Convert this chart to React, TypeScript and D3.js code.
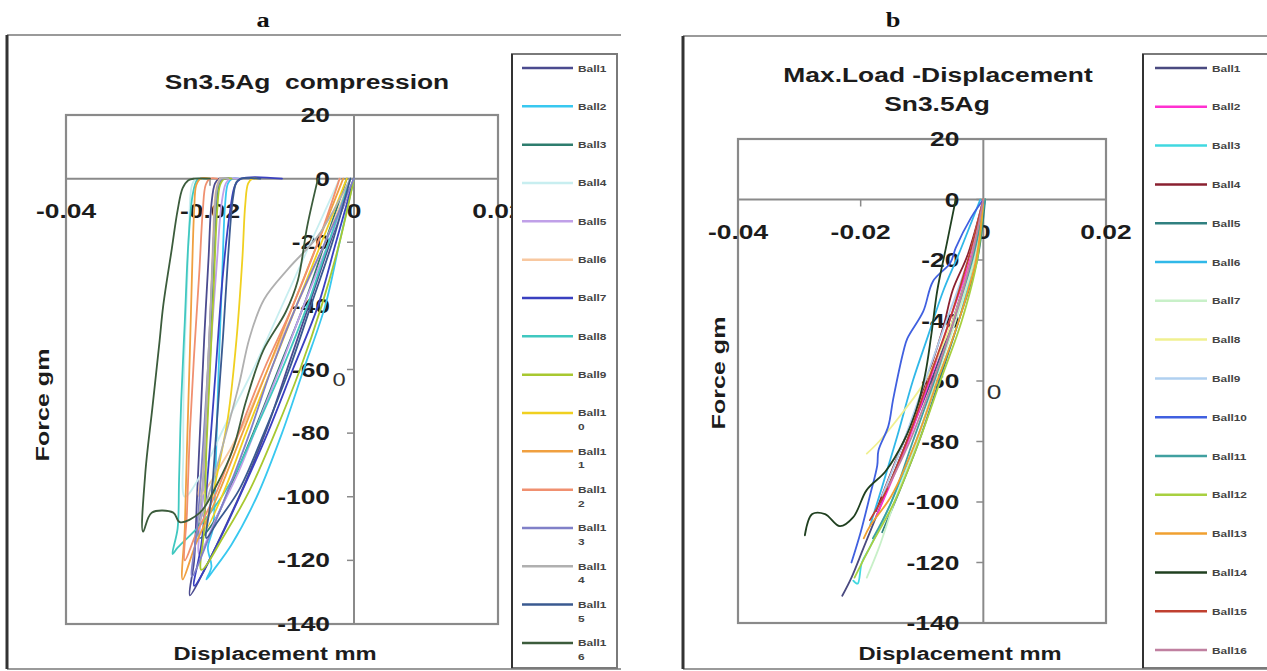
import * as d3 from 'd3'

type Pt = [number, number]

const xTicks = [-0.04, -0.02, 0, 0.02]
const yTicks = [20, 0, -20, -40, -60, -80, -100, -120, -140]
const ballNames = ['Ball1', 'Ball2', 'Ball3', 'Ball4', 'Ball5', 'Ball6', 'Ball7', 'Ball8',
  'Ball9', 'Ball10', 'Ball11', 'Ball12', 'Ball13', 'Ball14', 'Ball15', 'Ball16']

const colorsA = ['#4b4b8f', '#38c8f0', '#2e7d6e', '#c8eef0', '#c0a0e8', '#f8c8a0', '#3a40c0', '#40c8c0',
  '#a8c830', '#f0d020', '#f0a040', '#f09070', '#8080c8', '#b0b0b0', '#3a5a90', '#3c5c3c']
const colorsB = ['#4a4a80', '#ff30d0', '#40d8e0', '#8a2030', '#308080', '#30b8e8', '#c8f0c8', '#f0f090',
  '#b0d0f0', '#4060e0', '#40a0a0', '#a8d040', '#f0a030', '#204020', '#c04030', '#c080a0']

// a: full compression cycle (load down-left, unload back up to 0)
const compressionCurves: Pt[][] = [
  [[0, 0], [-0.003, -18], [-0.006, -38], [-0.009, -58], [-0.012, -78], [-0.015, -95], [-0.018, -110], [-0.021, -124], [-0.0228, -131],
    [-0.0222, -120], [-0.0218, -100], [-0.0213, -75], [-0.0208, -50], [-0.0202, -25], [-0.0198, -8], [-0.0193, -1.5], [-0.0187, 0], [-0.0175, 0]],
  [[0, 0], [-0.002, -20], [-0.004, -40], [-0.007, -60], [-0.01, -80], [-0.0135, -100], [-0.017, -115], [-0.0195, -123], [-0.0205, -126],
    [-0.0198, -122], [-0.0203, -116], [-0.0196, -110], [-0.0192, -90], [-0.0188, -60], [-0.0183, -30], [-0.0179, -8], [-0.0175, -1.5], [-0.0169, 0], [-0.016, 0]],
  [[-0.001, 0], [-0.004, -20], [-0.007, -40], [-0.0105, -60], [-0.014, -80], [-0.017, -96], [-0.0195, -108], [-0.0215, -113],
    [-0.021, -100], [-0.0205, -80], [-0.02, -55], [-0.0195, -30], [-0.0191, -10], [-0.0187, -1.5], [-0.0181, 0], [-0.017, 0]],
  [[-0.002, 0], [-0.006, -20], [-0.01, -40], [-0.014, -60], [-0.018, -78], [-0.021, -92], [-0.0235, -100],
    [-0.0237, -85], [-0.0236, -60], [-0.0232, -35], [-0.0229, -15], [-0.0225, -2], [-0.0219, 0], [-0.021, 0]],
  [[0, 0], [-0.0035, -20], [-0.007, -40], [-0.01, -58], [-0.013, -75], [-0.016, -92], [-0.019, -106], [-0.0215, -118],
    [-0.021, -100], [-0.0205, -75], [-0.0198, -50], [-0.019, -25], [-0.0184, -8], [-0.0178, -1.5], [-0.0172, 0], [-0.016, 0]],
  [[-0.0005, 0], [-0.004, -20], [-0.008, -40], [-0.012, -60], [-0.0155, -78], [-0.019, -92], [-0.0215, -100],
    [-0.021, -90], [-0.0205, -70], [-0.02, -45], [-0.0196, -20], [-0.0192, -4], [-0.0186, 0], [-0.0175, 0]],
  [[0, 0], [-0.0025, -20], [-0.005, -40], [-0.0085, -60], [-0.012, -80], [-0.0155, -98], [-0.019, -115], [-0.0222, -128],
    [-0.0212, -115], [-0.0202, -90], [-0.0192, -60], [-0.0182, -30], [-0.0172, -10], [-0.0165, -2], [-0.0157, 0], [-0.01, 0]],
  [[-0.0005, 0], [-0.0035, -20], [-0.0065, -40], [-0.01, -60], [-0.0135, -78], [-0.017, -95], [-0.021, -108], [-0.0245, -116], [-0.0252, -118],
    [-0.0245, -110], [-0.0243, -95], [-0.024, -70], [-0.0235, -45], [-0.023, -20], [-0.0224, -5], [-0.0218, -0.5], [-0.0212, 0], [-0.02, 0]],
  [[0, 0], [-0.002, -20], [-0.0045, -40], [-0.0075, -60], [-0.011, -80], [-0.0145, -98], [-0.018, -112], [-0.0212, -123],
    [-0.0208, -110], [-0.0205, -85], [-0.02, -60], [-0.0195, -35], [-0.019, -10], [-0.0186, -2], [-0.018, 0], [-0.017, 0]],
  [[-0.001, 0], [-0.0045, -20], [-0.008, -40], [-0.0115, -60], [-0.015, -80], [-0.018, -98], [-0.0205, -110],
    [-0.0192, -95], [-0.0175, -75], [-0.0163, -50], [-0.0155, -25], [-0.0151, -8], [-0.0147, -1.5], [-0.0141, 0], [-0.0135, 0]],
  [[-0.0015, 0], [-0.005, -20], [-0.0085, -40], [-0.012, -60], [-0.0155, -80], [-0.019, -100], [-0.022, -115], [-0.0238, -126],
    [-0.0235, -110], [-0.0232, -85], [-0.0228, -55], [-0.0225, -30], [-0.0222, -10], [-0.0219, -2], [-0.0213, 0], [-0.02, 0]],
  [[-0.002, 0], [-0.005, -20], [-0.0085, -40], [-0.0125, -60], [-0.016, -80], [-0.019, -98], [-0.022, -112], [-0.0235, -120],
    [-0.0232, -105], [-0.0228, -80], [-0.0222, -55], [-0.0215, -30], [-0.021, -10], [-0.0206, -2], [-0.02, 0], [-0.019, 0]],
  [[0, 0], [-0.004, -20], [-0.008, -40], [-0.0115, -60], [-0.0145, -80], [-0.0175, -98], [-0.02, -112], [-0.0225, -125],
    [-0.0218, -110], [-0.021, -85], [-0.0203, -60], [-0.0198, -35], [-0.0193, -10], [-0.0189, -2], [-0.0183, 0], [-0.0175, 0]],
  [[-0.0005, 0], [-0.005, -18], [-0.009, -28], [-0.0125, -38], [-0.0145, -50], [-0.016, -65], [-0.018, -82], [-0.02, -98], [-0.0215, -108],
    [-0.021, -95], [-0.0205, -70], [-0.02, -45], [-0.0195, -20], [-0.0191, -4], [-0.0185, 0], [-0.0175, 0]],
  [[-0.0005, 0], [-0.003, -20], [-0.006, -40], [-0.009, -60], [-0.0125, -80], [-0.016, -98], [-0.019, -108], [-0.0205, -113],
    [-0.0198, -100], [-0.019, -75], [-0.0182, -50], [-0.0175, -25], [-0.0168, -6], [-0.0163, -1], [-0.0157, 0], [-0.013, 0]],
  [[-0.005, 0], [-0.0065, -15], [-0.0078, -32], [-0.0095, -42], [-0.0126, -54], [-0.015, -70], [-0.0168, -85], [-0.019, -96],
    [-0.0214, -105], [-0.0242, -108], [-0.0251, -105], [-0.0281, -105], [-0.0293, -111],
    [-0.029, -93], [-0.028, -72], [-0.027, -51], [-0.0265, -40], [-0.0253, -22], [-0.0245, -10], [-0.0238, -3], [-0.023, -0.5], [-0.0222, 0], [-0.02, 0]],
]

// b: loading branch only, up to max load
const maxLoadCurves: Pt[][] = [
  [[0, 0], [-0.002, -20], [-0.005, -40], [-0.0085, -60], [-0.0125, -80], [-0.0165, -100], [-0.0195, -115], [-0.0215, -125], [-0.023, -131]],
  [[0, 0], [-0.0022, -20], [-0.0055, -40], [-0.0088, -60], [-0.0123, -80], [-0.016, -98], [-0.0175, -105]],
  [[0, 0], [-0.0015, -20], [-0.004, -40], [-0.0075, -60], [-0.011, -80], [-0.015, -100], [-0.0185, -115], [-0.0198, -120], [-0.0205, -127], [-0.0212, -126]],
  [[0, 0], [-0.0025, -18], [-0.005, -30], [-0.0065, -42], [-0.009, -58], [-0.012, -75], [-0.015, -90], [-0.0175, -103]],
  [[0.0003, 0], [-0.001, -20], [-0.004, -40], [-0.0072, -60], [-0.0105, -80], [-0.014, -98], [-0.0165, -110]],
  [[-0.0005, 0], [-0.004, -18], [-0.0065, -30], [-0.009, -45], [-0.0115, -60], [-0.014, -78], [-0.0165, -95], [-0.0185, -108]],
  [[0, 0], [-0.0015, -20], [-0.0045, -40], [-0.0078, -60], [-0.0108, -80], [-0.0145, -100], [-0.017, -115], [-0.019, -125]],
  [[0, 0], [-0.002, -20], [-0.005, -40], [-0.0095, -60], [-0.013, -70], [-0.017, -80], [-0.019, -84]],
  [[0, 0], [-0.0025, -20], [-0.006, -40], [-0.0095, -60], [-0.013, -80], [-0.0165, -98]],
  [[0, 0], [-0.002, -6], [-0.0045, -16], [-0.0054, -21], [-0.0082, -27], [-0.0098, -37], [-0.0124, -46], [-0.013, -50], [-0.0147, -66],
    [-0.0155, -75], [-0.0171, -83], [-0.0173, -88], [-0.0185, -98], [-0.02, -110], [-0.0215, -120]],
  [[0.0003, 0], [-0.0018, -20], [-0.0048, -40], [-0.008, -60], [-0.0115, -80], [-0.015, -100], [-0.018, -112]],
  [[0, 0], [-0.001, -20], [-0.0035, -40], [-0.007, -60], [-0.0105, -80], [-0.0145, -100], [-0.0185, -115], [-0.021, -125]],
  [[0, 0], [-0.0012, -20], [-0.004, -40], [-0.0075, -60], [-0.011, -80], [-0.015, -98], [-0.0185, -108], [-0.0195, -112]],
  [[-0.0045, 0], [-0.006, -15], [-0.0075, -30], [-0.0085, -45], [-0.0095, -58], [-0.011, -70], [-0.013, -80], [-0.016, -90],
    [-0.019, -96], [-0.0212, -105], [-0.0234, -108], [-0.0258, -104], [-0.0279, -104], [-0.0291, -111]],
  [[0, 0], [-0.0025, -20], [-0.0055, -40], [-0.009, -60], [-0.0125, -80], [-0.016, -97], [-0.0185, -106]],
  [[0, 0], [-0.002, -20], [-0.0048, -40], [-0.0082, -60], [-0.012, -80], [-0.0155, -95]],
]

const SX = 1.32
const INK = '#1c1c1c'
const FONT = 'Arial, "Liberation Sans", sans-serif'

function T({ x, y, size, children, anchor = 'middle', weight = 'bold', rotate = 0, family = FONT, fill = INK }: any) {
  const tr = `translate(${x},${y})${rotate ? ` rotate(${rotate})` : ''} scale(${SX},1)`
  return (
    <text transform={tr} textAnchor={anchor} fontSize={size} fontWeight={weight} fontFamily={family} fill={fill}
      style={{ whiteSpace: 'pre' }}>
      {children}
    </text>
  )
}

function Panel({ curves, colors, box, plot, titles, xTitle, yTitle, legend, stray, wrap }: any) {
  const x = d3.scaleLinear().domain([-0.04, 0.02]).range([plot.x0, plot.x1])
  const y = d3.scaleLinear().domain([20, -140]).range([plot.y0, plot.y1])
  const line = d3.line<Pt>().x((d) => x(d[0])).y((d) => y(d[1])).curve(d3.curveCatmullRom.alpha(0.5))
  const gray = '#8a8a8a'

  return (
    <g>
      {/* panel frame */}
      <line x1={box.x0} x2={box.x1} y1={box.y0} y2={box.y0} stroke="#9a9a9a" strokeWidth={2} />
      <line x1={box.x0} x2={box.x1} y1={box.y1} y2={box.y1} stroke="#9a9a9a" strokeWidth={2} />
      <line x1={box.x0} x2={box.x0} y1={box.y0} y2={box.y1} stroke="#333" strokeWidth={3} />

      {titles.map((t: any, i: number) => (
        <T key={i} x={t.x} y={t.y} size={20}>{t.text}</T>
      ))}

      <rect x={plot.x0} y={plot.y0} width={plot.x1 - plot.x0} height={plot.y1 - plot.y0}
        fill="none" stroke={gray} strokeWidth={2.2} />
      <line x1={plot.x0} x2={plot.x1} y1={y(0)} y2={y(0)} stroke={gray} strokeWidth={2} />
      <line x1={x(0)} x2={x(0)} y1={plot.y0} y2={plot.y1} stroke={gray} strokeWidth={2} />

      {xTicks.map((t) => (
        <g key={'x' + t}>
          <line x1={x(t)} x2={x(t)} y1={y(0)} y2={y(0) + 7} stroke={gray} strokeWidth={1.5} />
          <T x={x(t)} y={y(0) + 39} size={20}>{t === 0 ? '0' : String(t)}</T>
        </g>
      ))}
      {yTicks.map((t) => (
        <g key={'y' + t}>
          <line x1={x(0) - 7} x2={x(0)} y1={y(t)} y2={y(t)} stroke={gray} strokeWidth={1.5} />
          <T x={x(0) - 24} y={y(t) + 7} size={20} anchor="end">{String(t)}</T>
        </g>
      ))}

      <T x={stray.x} y={stray.y} size={stray.size} weight="normal" fill="#333">0</T>

      {curves.map((c: Pt[], i: number) => (
        <path key={i} d={line(c) || ''} fill="none" stroke={colors[i]} strokeWidth={1.8}
          strokeLinejoin="round" strokeLinecap="round" />
      ))}

      <T x={xTitle.x} y={xTitle.y} size={18}>Displacement mm</T>
      <T x={yTitle.x} y={yTitle.y} size={19} rotate={-90}>Force gm</T>

      {/* legend */}
      <rect x={legend.x0} y={legend.y0} width={legend.x1 - legend.x0} height={legend.y1 - legend.y0}
        fill="#fff" stroke="#7a7a7a" strokeWidth={2} />
      <line x1={legend.x0} x2={legend.x0} y1={legend.y0} y2={legend.y1} stroke="#333" strokeWidth={2} />
      {ballNames.map((name, i) => {
        const ly = legend.first + i * legend.step
        const two = wrap && name.length > 5
        return (
          <g key={name}>
            <line x1={legend.lx0} x2={legend.lx1} y1={ly} y2={ly} stroke={colors[i]} strokeWidth={2.5} />
            <T x={legend.tx} y={ly + 3.5} size={9} anchor="start" fill="#444">{two ? name.slice(0, 5) : name}</T>
            {two && <T x={legend.tx} y={ly + 17} size={9} anchor="start" fill="#444">{name.slice(5)}</T>}
          </g>
        )
      })}
    </g>
  )
}

export default function App() {
  return (
    <svg width={1267} height={671} style={{ position: 'absolute', left: 0, top: 0, background: '#fff' }}>
      <T x={263} y={27} size={20} family='"Liberation Serif", "Times New Roman", serif' fill="#111">a</T>
      <T x={893} y={27} size={20} family='"Liberation Serif", "Times New Roman", serif' fill="#111">b</T>
      <Panel
        curves={compressionCurves}
        colors={colorsA}
        box={{ x0: 7, x1: 621, y0: 35, y1: 669 }}
        plot={{ x0: 66, x1: 498, y0: 115, y1: 624 }}
        titles={[{ x: 307, y: 89, text: 'Sn3.5Ag\u00a0\u00a0compression' }]}
        xTitle={{ x: 275, y: 660 }}
        yTitle={{ x: 49, y: 405 }}
        stray={{ x: 339, y: 386, size: 18 }}
        legend={{ x0: 512, x1: 617, y0: 54, y1: 668, first: 68, step: 38.33, lx0: 522, lx1: 573, tx: 578 }}
        wrap
      />
      <Panel
        curves={maxLoadCurves}
        colors={colorsB}
        box={{ x0: 683, x1: 1267, y0: 36, y1: 669 }}
        plot={{ x0: 738, x1: 1106, y0: 139, y1: 623 }}
        titles={[{ x: 938, y: 82, text: 'Max.Load -Displacement' }, { x: 937, y: 111, text: 'Sn3.5Ag' }]}
        xTitle={{ x: 960, y: 660 }}
        yTitle={{ x: 725, y: 373 }}
        stray={{ x: 994, y: 399, size: 20 }}
        legend={{ x0: 1143, x1: 1272, y0: 54, y1: 668, first: 68, step: 38.8, lx0: 1155, lx1: 1207, tx: 1212 }}
        wrap={false}
      />
    </svg>
  )
}
